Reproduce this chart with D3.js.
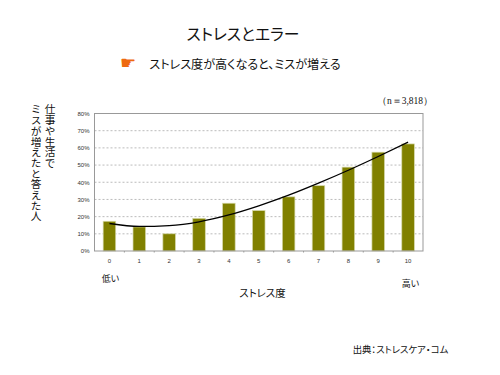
<!DOCTYPE html>
<html>
<head>
<meta charset="utf-8">
<script src="https://d3js.org/d3.v7.min.js"></script>
<style>
html, body { margin: 0; padding: 0; background: #fff; }
svg { display: block; }
text { font-family: "Noto Sans CJK JP", sans-serif; font-feature-settings: "palt"; fill: #111; }
</style>
</head>
<body>
<svg width="500" height="375"></svg>
<script>
// values
var categories = ["0", "1", "2", "3", "4", "5", "6", "7", "8", "9", "10"];
var barValues = [17.3, 14, 10, 19, 27.8, 23.5, 31.5, 38, 48.8, 57.5, 62.3];
var trendValues = [16, 14.3, 14.8, 17, 21, 26.3, 32.5, 39.5, 47, 55, 63.3];
var yTicks = [0, 10, 20, 30, 40, 50, 60, 70, 80];
var leftLabels = ["仕事や生活で", "ミスが増えたと答えた人"];

var svg = d3.select("svg");
var margin = {top: 113.5, right: 77, bottom: 124, left: 94.5};
var width = 500 - margin.left - margin.right;
var height = 375 - margin.top - margin.bottom;
var g = svg.append("g").attr("transform", "translate(" + margin.left + "," + margin.top + ")");

var x = d3.scaleBand().domain(categories).range([0, width]).paddingInner(0.58).paddingOuter(0.29);
var y = d3.scaleLinear().domain([0, 80]).range([height, 0]);

// grid
g.selectAll(".grid")
    .data(yTicks.slice(1, -1))
    .enter().append("line")
    .attr("x1", 0)
    .attr("x2", width)
    .attr("y1", function(d) { return y(d); })
    .attr("y2", function(d) { return y(d); })
    .style("stroke", "#aaa")
    .style("stroke-width", 0.8)
    .style("stroke-dasharray", "2,2");

// bars
g.selectAll(".bar")
    .data(barValues)
    .enter().append("rect")
    .attr("x", function(d, i) { return x(categories[i]); })
    .attr("y", function(d) { return y(d); })
    .attr("width", x.bandwidth())
    .attr("height", function(d) { return height - y(d); })
    .style("fill", "#808000")
    .style("stroke", "#d5d8a8")
    .style("stroke-width", 0.7);

// plot frame
g.append("rect")
    .attr("width", width)
    .attr("height", height)
    .style("fill", "none")
    .style("stroke", "#999")
    .style("stroke-width", 1);

// y axis
var yAxis = g.append("g").call(d3.axisLeft(y).tickValues(yTicks).tickSize(0).tickPadding(5).tickFormat(function(d) { return d + "%"; }));
yAxis.select(".domain").remove();
yAxis.selectAll("text").style("font-size", "6px").style("font-family", "Liberation Sans, sans-serif").style("fill", "#333");

// x axis
var xAxis = g.append("g").attr("transform", "translate(0," + height + ")")
    .call(d3.axisBottom(x).tickSize(0).tickPadding(8));
xAxis.select(".domain").remove();
xAxis.selectAll("text").style("font-size", "6px").style("font-family", "Liberation Sans, sans-serif").style("fill", "#333");

// small ticks between the categories
g.selectAll(".xtick")
    .data(categories.slice(1))
    .enter().append("line")
    .attr("x1", function(d) { return x(d) - x.step() * 0.29; })
    .attr("x2", function(d) { return x(d) - x.step() * 0.29; })
    .attr("y1", height)
    .attr("y2", height + 1.5)
    .style("stroke", "#999");

// trend line
var line = d3.line()
    .x(function(d, i) { return x(categories[i]) + x.bandwidth() / 2; })
    .y(function(d) { return y(d); })
    .curve(d3.curveMonotoneX);
g.append("path")
    .attr("d", line(trendValues))
    .style("fill", "none")
    .style("stroke", "#000")
    .style("stroke-width", 1.3);

// titles
svg.append("text").attr("x", 243).attr("y", 40).attr("text-anchor", "middle")
    .style("font-size", "15.8px").text("ストレスとエラー");
svg.append("text").attr("x", 128).attr("y", 69).attr("text-anchor", "middle")
    .style("font-family", "DejaVu Sans").style("font-size", "18px").style("fill", "#ee6a10").text("☛");
svg.append("text").attr("x", 245).attr("y", 69).attr("text-anchor", "middle")
    .style("font-size", "12.1px").text("ストレス度が高くなると、ミスが増える");
svg.append("text").attr("x", 433).attr("y", 104).attr("text-anchor", "end")
    .style("font-family", "Liberation Serif, serif").style("font-size", "9.5px").text("（n＝3,818）");

// vertical labels
svg.selectAll(".vlabel")
    .data(leftLabels)
    .enter().append("text")
    .attr("x", function(d, i) { return 50 - i * 14; })
    .attr("y", 104)
    .style("writing-mode", "vertical-rl")
    .style("font-feature-settings", "normal")
    .style("font-size", "10.7px")
    .text(function(d) { return d; });

// other labels
svg.append("text").attr("x", 110.5).attr("y", 282).attr("text-anchor", "middle").style("font-size", "9px").text("低い");
svg.append("text").attr("x", 410.5).attr("y", 287).attr("text-anchor", "middle").style("font-size", "9px").text("高い");
svg.append("text").attr("x", 262.5).attr("y", 297).attr("text-anchor", "middle").style("font-size", "10.4px").text("ストレス度");
svg.append("text").attr("x", 400.5).attr("y", 353).attr("text-anchor", "middle").style("font-size", "9.4px").text("出典：ストレスケア・コム");
</script>
</body>
</html>
